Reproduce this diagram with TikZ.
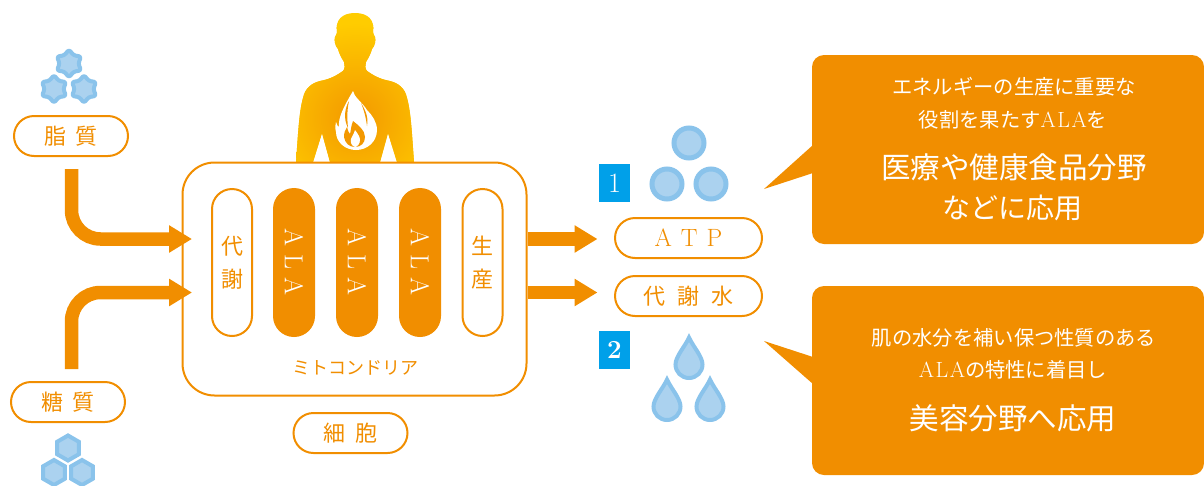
\documentclass[tikz,border=0pt]{standalone}
\usepackage{fontspec}
\usetikzlibrary{arrows.meta,shapes.geometric}
\newfontfamily\jpfont{Noto Sans CJK JP}
\definecolor{alaorange}{HTML}{F18E00}
\definecolor{molring}{HTML}{8AC3EB}
\definecolor{molfill}{HTML}{ABD2EF}
\definecolor{numblue}{HTML}{00A0E9}
\definecolor{bodyyellow}{HTML}{FFCC00}
\definecolor{bodyorange}{HTML}{F39800}
\tikzset{
	pill/.style={draw=alaorange, line width=2pt, fill=white, rectangle, rounded corners=20pt, minimum height=40pt, inner sep=0pt, text=alaorange, font=\jpfont\fontsize{22}{33}\selectfont, align=center},
	alapill/.style={pill, fill=alaorange, text=white, minimum width=40pt, minimum height=147pt, font=\rmfamily\fontsize{26}{26}\selectfont},
	sidepill/.style={pill, minimum width=40pt, minimum height=147pt},
	flowarrow/.style={draw=alaorange, line width=13.5pt, -{Triangle[length=23pt,width=26pt]}},
	callout/.style={fill=alaorange, rounded corners=12pt},
	smalltext/.style={text=white, inner sep=0pt, font=\jpfont\fontsize{20.3}{21}\selectfont},
	bigtext/.style={text=white, inner sep=0pt, font=\jpfont\fontsize{29.5}{30}\selectfont},
	fatmol/.style={star, star points=6, star point ratio=1.5, minimum size=28pt, inner sep=0pt, draw=molring, fill=molfill, line width=4pt, rounded corners=2.5pt, line join=round},
	sugarmol/.style={regular polygon, regular polygon sides=6, shape border rotate=30, minimum size=25pt, inner sep=0pt, draw=molring, fill=molfill, line width=4pt},
	atpmol/.style={circle, minimum size=30pt, inner sep=0pt, draw=molring, fill=molfill, line width=5pt},
	numbox/.style={fill=numblue, text=white, minimum width=31pt, minimum height=38pt, inner sep=0pt, font=\rmfamily\fontsize{28}{28}\selectfont}
}
\def\waterdrop(#1,#2){\draw[molring, fill=molfill, line width=4pt, miter limit=6] (#1,#2-27) .. controls (#1+4,#2-18) and (#1+13.5,#2-8) .. (#1+13.5,#2) .. controls (#1+13.5,#2+7.5) and (#1+7.5,#2+13.5) .. (#1,#2+13.5) .. controls (#1-7.5,#2+13.5) and (#1-13.5,#2+7.5) .. (#1-13.5,#2) .. controls (#1-13.5,#2-8) and (#1-4,#2-18) .. cycle;}
\def\alaword{{\rmfamily\fontsize{22}{22}\selectfont A\hspace{1.5pt}L\hspace{1.5pt}A}}
\begin{document}
\begin{tikzpicture}[x=1pt,y=-1pt]
	\useasboundingbox (0,0) rectangle (1204,485);

	%%%%% BODY %%%%%
	\path[path picture={\fill[bodyyellow] (280,0) rectangle (430,170); \shade[inner color=bodyorange, outer color=bodyyellow] (356,118) circle (95);}]
		(296,162) .. controls (298,135) and (299,112) .. (303,98)
		.. controls (305,88) and (312,83) .. (320,81)
		.. controls (331,79) and (337,75) .. (343,71)
		.. controls (345,69) and (345,65) .. (344,62)
		.. controls (341,57) and (339,53) .. (338,49)
		.. controls (335,46) and (334,40) .. (335,37)
		.. controls (336,35) and (337,34) .. (337,32)
		.. controls (335,20) and (342,13) .. (355,13)
		.. controls (368,13) and (375,20) .. (373,32)
		.. controls (373,34) and (374,35) .. (375,37)
		.. controls (376,40) and (375,46) .. (372,49)
		.. controls (371,53) and (369,57) .. (366,62)
		.. controls (365,65) and (365,69) .. (367,71)
		.. controls (373,75) and (379,79) .. (390,81)
		.. controls (398,83) and (405,88) .. (407,98)
		.. controls (411,112) and (412,135) .. (414,162)
		-- (397,162) -- (388,133) -- (380,162) -- (330,162) -- (322,133) -- (313,162) -- cycle;
	% flame
	\fill[white] (353,91) .. controls (354,97) and (362,102) .. (367,110)
		.. controls (372,115) and (377,122) .. (377,130)
		.. controls (377,142) and (367,150) .. (356,150)
		.. controls (345,150) and (336,142) .. (336,132)
		.. controls (335,128) and (335,125) .. (336,122)
		.. controls (337,125) and (338,127) .. (339,127)
		.. controls (338,118) and (343,108) .. (353,91) -- cycle;
	\fill[bodyorange] (349,101) .. controls (345,108) and (343,118) .. (348,128)
		.. controls (347,118) and (347,110) .. (349,101) -- cycle;
	\fill[bodyorange] (361,103) .. controls (364,108) and (369,116) .. (367,126)
		.. controls (366,118) and (364,110) .. (361,103) -- cycle;
	\fill[bodyorange] (353,121) .. controls (358,125) and (365,130) .. (365,137)
		.. controls (365,143) and (361,147) .. (355,147)
		.. controls (349,147) and (345,143) .. (344,137)
		.. controls (344,133) and (345,130) .. (347,127)
		.. controls (348,131) and (349,133) .. (350,134)
		.. controls (351,130) and (351,126) .. (353,121) -- cycle;
	\fill[white] (355,130) .. controls (358,134) and (360,137) .. (360,140)
		.. controls (360,144) and (357,147) .. (355,147)
		.. controls (352,146) and (350,143) .. (351,139)
		.. controls (352,136) and (354,134) .. (355,130) -- cycle;

	%%%%% MITOCHONDRIA %%%%%
	\node[draw=alaorange, line width=2pt, fill=white, rounded corners=32pt, minimum width=344pt, minimum height=233pt, inner sep=0pt] (mitobox) at (354.5,279) {};
	\node[sidepill] (metab) at (232,262.5) {代\\謝};
	\node[alapill] (alaone) at (294,262.5) {\rotatebox{-90}{A\hspace{8pt}L\hspace{8pt}A}};
	\node[alapill] (alatwo) at (357,262.5) {\rotatebox{-90}{A\hspace{8pt}L\hspace{8pt}A}};
	\node[alapill] (alathree) at (420,262.5) {\rotatebox{-90}{A\hspace{8pt}L\hspace{8pt}A}};
	\node[sidepill] (produce) at (482.5,262.5) {生\\産};
	\node[text=alaorange, inner sep=0pt, font=\jpfont\fontsize{18}{18}\selectfont] (mitolabel) at (355,368) {ミトコンドリア};
	\node[pill, minimum width=114pt] (celllabel) at (350.5,433) {細\hspace{10pt}胞};

	%%%%% INPUTS %%%%%
	\node[fatmol] (fatone) at (69,63.5) {};
	\node[fatmol] (fattwo) at (54,89) {};
	\node[fatmol] (fatthree) at (84,89) {};
	\node[pill, minimum width=114pt] (fatlabel) at (71,136) {脂\hspace{10pt}質};
	\node[pill, minimum width=114pt] (sugarlabel) at (68,402) {糖\hspace{10pt}質};
	\node[sugarmol] (sugarone) at (68,448) {};
	\node[sugarmol] (sugartwo) at (54,472.5) {};
	\node[sugarmol] (sugarthree) at (82,472.5) {};

	\coordinate (fatstart) at (71.5,169);
	\coordinate (fatend) at (192,239);
	\coordinate (sugarstart) at (71.5,369);
	\coordinate (sugarend) at (192,292.5);
	\draw[flowarrow, rounded corners=29pt] (fatstart) -- (fatstart |- fatend) -- (fatend);
	\draw[flowarrow, rounded corners=29pt] (sugarstart) -- (sugarstart |- sugarend) -- (sugarend);

	%%%%% OUTPUTS %%%%%
	\coordinate (atpend) at (597.5,239);
	\coordinate (waterend) at (597.5,292.5);
	\draw[flowarrow] (mitobox.east |- atpend) -- (atpend);
	\draw[flowarrow] (mitobox.east |- waterend) -- (waterend);
	\node[pill, minimum width=147pt, font=\rmfamily\fontsize{25}{25}\selectfont] (atplabel) at (688.5,238) {A\hspace{9pt}T\hspace{9pt}P};
	\node[pill, minimum width=147pt] (waterlabel) at (688.5,296) {代\hspace{12pt}謝\hspace{12pt}水};

	\node[numbox] (numone) at (614.5,183) {1};
	\node[atpmol] (atpone) at (689,143) {};
	\node[atpmol] (atptwo) at (667,184) {};
	\node[atpmol] (atpthree) at (711,184) {};

	\node[numbox, font=\rmfamily\bfseries\fontsize{26}{26}\selectfont] (numtwo) at (614.5,350) {2};
	\waterdrop(689,364.5)
	\waterdrop(667,406.5)
	\waterdrop(710,406.5)

	%%%%% CALLOUTS %%%%%
	\fill[alaorange] (813,145) -- (764,189) -- (813,173) -- cycle;
	\fill[callout] (812,55) rectangle (1204,244);
	\node[smalltext] (energyone) at (1014,87) {エネルギーの生産に重要な};
	\node[smalltext] (energytwo) at (1013,120) {役割を果たす\alaword を};
	\node[bigtext] (medicalone) at (1014,167) {医療や健康食品分野};
	\node[bigtext, font=\jpfont\fontsize{28}{30}\selectfont] (medicaltwo) at (1012,208) {などに応用};

	\fill[alaorange] (813,357) -- (764,341) -- (813,384) -- cycle;
	\fill[callout] (812,286) rectangle (1204,475);
	\node[smalltext] (skinone) at (1014,338) {肌の水分を補い保つ性質のある};
	\node[smalltext] (skintwo) at (1013,370) {\alaword の特性に着目し};
	\node[bigtext] (beauty) at (1013,418) {美容分野へ応用};
\end{tikzpicture}
\end{document}
